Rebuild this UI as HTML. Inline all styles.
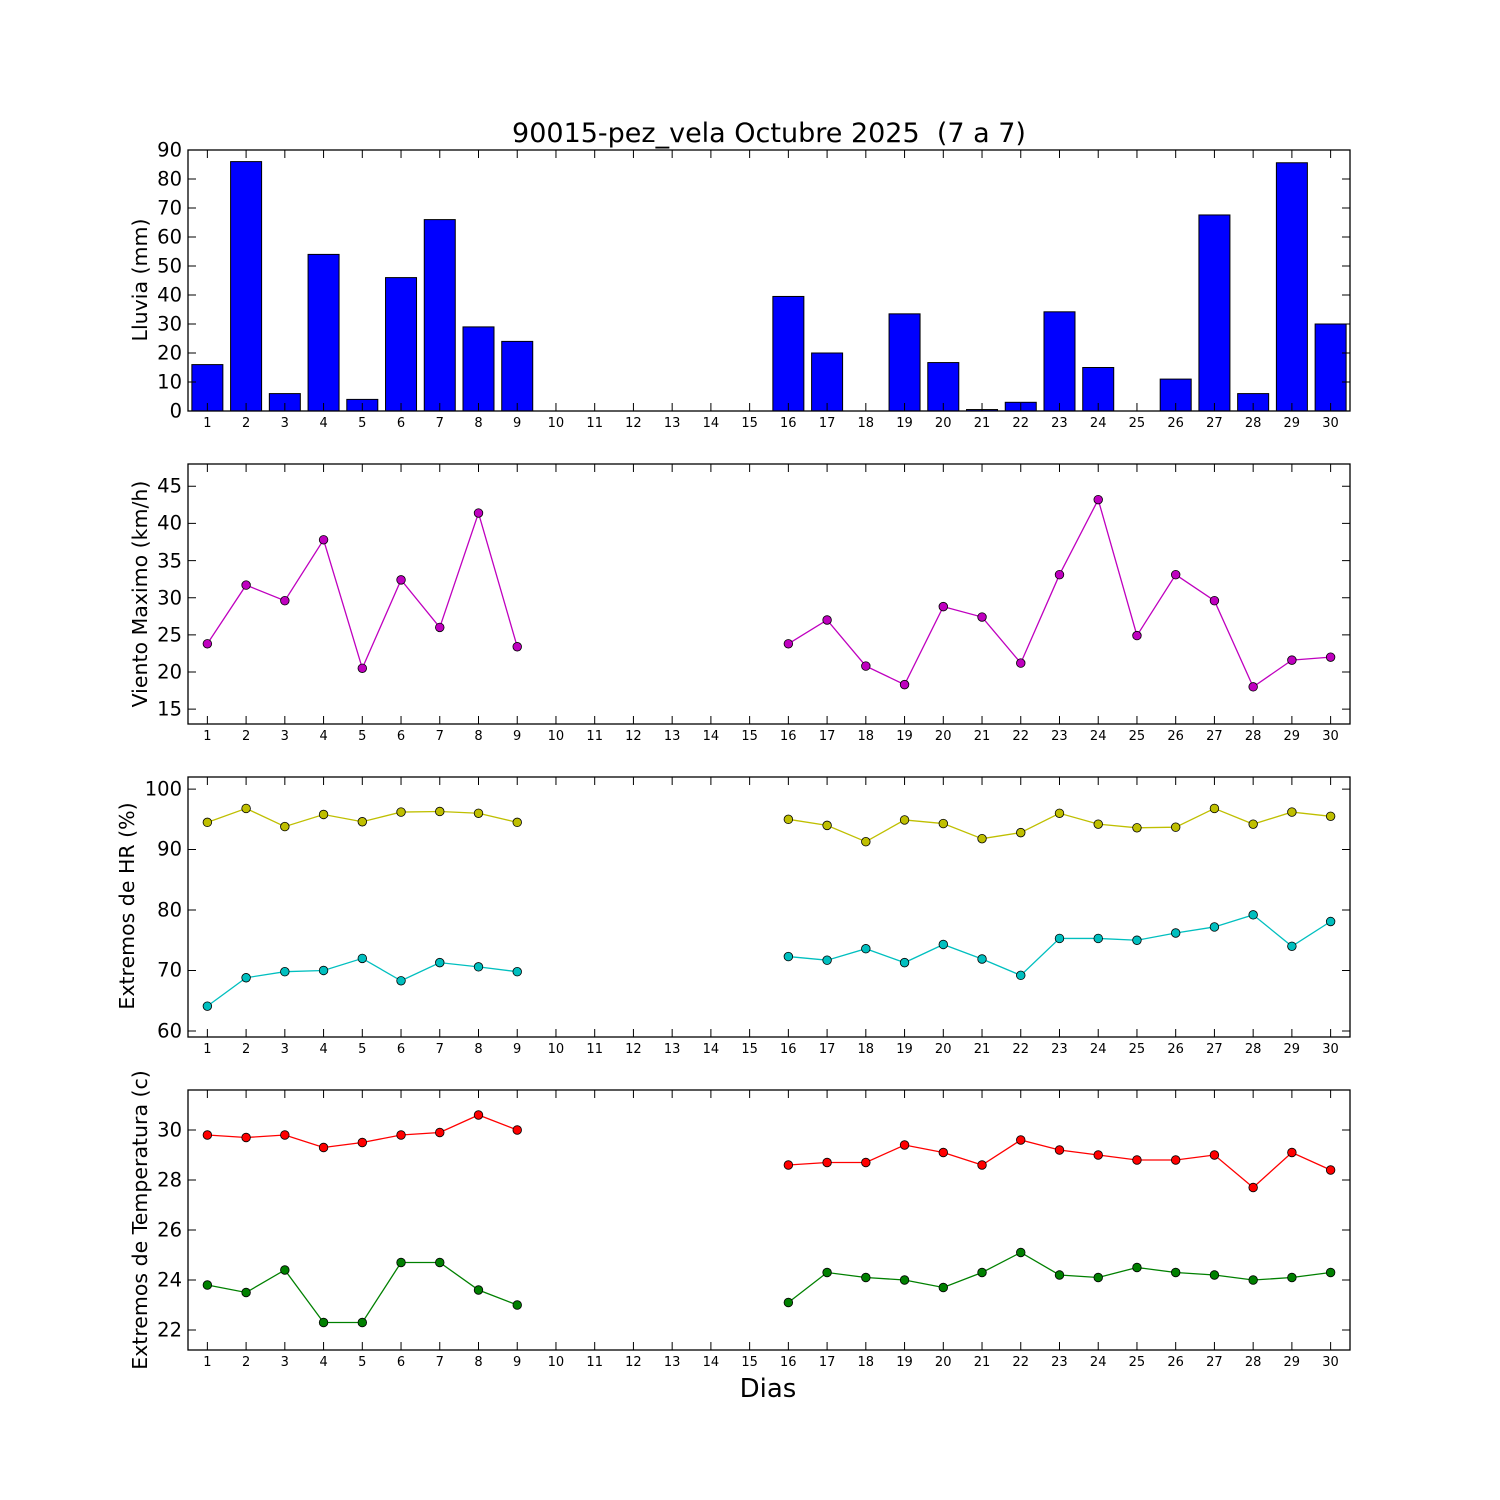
<!DOCTYPE html>
<html><head><meta charset="utf-8"><style>
html,body{margin:0;padding:0;background:#fff}
svg{display:block}
text{font-family:"DejaVu Sans","Liberation Sans",sans-serif;fill:#000}
.yt{font-size:19.5px;text-anchor:end;dominant-baseline:central}
.xt{font-size:13px;text-anchor:middle}
.yl{font-size:20.5px;text-anchor:middle}
</style></head><body>
<svg id="s" width="1500" height="1500" viewBox="0 0 1500 1500" xmlns="http://www.w3.org/2000/svg">
<rect width="1500" height="1500" fill="#fff"/>
<g id="data"></g>
<text x="769" y="142" style="font-size:27px;text-anchor:middle">90015-pez_vela Octubre 2025 &#160;(7 a 7)</text>
<text x="768" y="1397" style="font-size:26px;text-anchor:middle">Dias</text>
<text class="yl" transform="translate(147,280) rotate(-90)">Lluvia (mm)</text>
<text class="yl" transform="translate(147,594) rotate(-90)">Viento Maximo (km/h)</text>
<text class="yl" transform="translate(134,906) rotate(-90)">Extremos de HR (%)</text>
<text class="yl" transform="translate(147,1220) rotate(-90)">Extremos de Temperatura (c)</text>
<g class="yt">
<text x="182" y="411">0</text><text x="182" y="382">10</text><text x="182" y="353">20</text><text x="182" y="324">30</text><text x="182" y="295">40</text><text x="182" y="266">50</text><text x="182" y="237">60</text><text x="182" y="208">70</text><text x="182" y="179">80</text><text x="182" y="150">90</text>
<text x="182" y="709">15</text><text x="182" y="672">20</text><text x="182" y="635">25</text><text x="182" y="598">30</text><text x="182" y="561">35</text><text x="182" y="523">40</text><text x="182" y="486">45</text>
<text x="182" y="1031">60</text><text x="182" y="970">70</text><text x="182" y="910">80</text><text x="182" y="849">90</text><text x="182" y="789">100</text>
<text x="182" y="1330">22</text><text x="182" y="1280">24</text><text x="182" y="1230">26</text><text x="182" y="1180">28</text><text x="182" y="1130">30</text>
</g>
<g class="xt" transform="translate(0,427)">
<text x="207.4">1</text><text x="246.1">2</text><text x="284.8">3</text><text x="323.6">4</text><text x="362.3">5</text><text x="401.0">6</text><text x="439.8">7</text><text x="478.5">8</text><text x="517.2">9</text><text x="555.9">10</text><text x="594.7">11</text><text x="633.4">12</text><text x="672.1">13</text><text x="710.9">14</text><text x="749.6">15</text><text x="788.3">16</text><text x="827.1">17</text><text x="865.8">18</text><text x="904.5">19</text><text x="943.2">20</text><text x="982.0">21</text><text x="1020.7">22</text><text x="1059.4">23</text><text x="1098.2">24</text><text x="1136.9">25</text><text x="1175.6">26</text><text x="1214.4">27</text><text x="1253.1">28</text><text x="1291.8">29</text><text x="1330.5">30</text>
</g>
<g class="xt" transform="translate(0,740)">
<text x="207.4">1</text><text x="246.1">2</text><text x="284.8">3</text><text x="323.6">4</text><text x="362.3">5</text><text x="401.0">6</text><text x="439.8">7</text><text x="478.5">8</text><text x="517.2">9</text><text x="555.9">10</text><text x="594.7">11</text><text x="633.4">12</text><text x="672.1">13</text><text x="710.9">14</text><text x="749.6">15</text><text x="788.3">16</text><text x="827.1">17</text><text x="865.8">18</text><text x="904.5">19</text><text x="943.2">20</text><text x="982.0">21</text><text x="1020.7">22</text><text x="1059.4">23</text><text x="1098.2">24</text><text x="1136.9">25</text><text x="1175.6">26</text><text x="1214.4">27</text><text x="1253.1">28</text><text x="1291.8">29</text><text x="1330.5">30</text>
</g>
<g class="xt" transform="translate(0,1053)">
<text x="207.4">1</text><text x="246.1">2</text><text x="284.8">3</text><text x="323.6">4</text><text x="362.3">5</text><text x="401.0">6</text><text x="439.8">7</text><text x="478.5">8</text><text x="517.2">9</text><text x="555.9">10</text><text x="594.7">11</text><text x="633.4">12</text><text x="672.1">13</text><text x="710.9">14</text><text x="749.6">15</text><text x="788.3">16</text><text x="827.1">17</text><text x="865.8">18</text><text x="904.5">19</text><text x="943.2">20</text><text x="982.0">21</text><text x="1020.7">22</text><text x="1059.4">23</text><text x="1098.2">24</text><text x="1136.9">25</text><text x="1175.6">26</text><text x="1214.4">27</text><text x="1253.1">28</text><text x="1291.8">29</text><text x="1330.5">30</text>
</g>
<g class="xt" transform="translate(0,1366)">
<text x="207.4">1</text><text x="246.1">2</text><text x="284.8">3</text><text x="323.6">4</text><text x="362.3">5</text><text x="401.0">6</text><text x="439.8">7</text><text x="478.5">8</text><text x="517.2">9</text><text x="555.9">10</text><text x="594.7">11</text><text x="633.4">12</text><text x="672.1">13</text><text x="710.9">14</text><text x="749.6">15</text><text x="788.3">16</text><text x="827.1">17</text><text x="865.8">18</text><text x="904.5">19</text><text x="943.2">20</text><text x="982.0">21</text><text x="1020.7">22</text><text x="1059.4">23</text><text x="1098.2">24</text><text x="1136.9">25</text><text x="1175.6">26</text><text x="1214.4">27</text><text x="1253.1">28</text><text x="1291.8">29</text><text x="1330.5">30</text>
</g>
</svg>
<script>
(function(){
var NS="http://www.w3.org/2000/svg",g=document.getElementById("data");
function el(t,a){var e=document.createElementNS(NS,t);for(var k in a)e.setAttribute(k,a[k]);g.appendChild(e);return e;}
function X(d){return 188+(d-0.5)*38.733;}
var L=188,R=1350;
var P=[{t:150,b:411,lo:0,hi:90,ticks:[0,10,20,30,40,50,60,70,80,90]},
{t:464,b:724,lo:13,hi:48,ticks:[15,20,25,30,35,40,45]},
{t:777,b:1037,lo:59,hi:102,ticks:[60,70,80,90,100]},
{t:1090,b:1350,lo:21.2,hi:31.6,ticks:[22,24,26,28,30]}];
function Y(p,v){return p.b-(v-p.lo)/(p.hi-p.lo)*(p.b-p.t);}
var N=null;
var rain=[16,86,6,54,4,46,66,29,24,0,0,0,0,0,0,39.5,20,0,33.5,16.7,0.5,3,34.2,15,0,11,67.6,6,85.6,30];
var gap=[N,N,N,N,N,N];
var wind=[23.8,31.7,29.6,37.8,20.5,32.4,26,41.4,23.4].concat(gap,[23.8,27,20.8,18.3,28.8,27.4,21.2,33.1,43.2,24.9,33.1,29.6,18,21.6,22]);
var hx=[94.5,96.8,93.8,95.8,94.6,96.2,96.3,96,94.5].concat(gap,[95,94,91.3,94.9,94.3,91.8,92.8,96,94.2,93.6,93.7,96.8,94.2,96.2,95.5]);
var hn=[64.1,68.8,69.8,70,72,68.3,71.3,70.6,69.8].concat(gap,[72.3,71.7,73.6,71.3,74.3,71.9,69.2,75.3,75.3,75,76.2,77.2,79.2,74,78.1]);
var tx=[29.8,29.7,29.8,29.3,29.5,29.8,29.9,30.6,30].concat(gap,[28.6,28.7,28.7,29.4,29.1,28.6,29.6,29.2,29,28.8,28.8,29,27.7,29.1,28.4]);
var tn=[23.8,23.5,24.4,22.3,22.3,24.7,24.7,23.6,23].concat(gap,[23.1,24.3,24.1,24,23.7,24.3,25.1,24.2,24.1,24.5,24.3,24.2,24,24.1,24.3]);
rain.forEach(function(v,i){if(v<=0)return;var x=X(i+1)-15.5,y=Y(P[0],v);
el("rect",{x:x,y:y,width:31,height:P[0].b-y,fill:"#0000ff",stroke:"#000","stroke-width":1});});
function series(p,arr,col){
 var segs=[],cur=[];
 arr.forEach(function(v,i){if(v===N){if(cur.length)segs.push(cur);cur=[];}else cur.push([X(i+1),Y(p,v)]);});
 if(cur.length)segs.push(cur);
 segs.forEach(function(s){el("polyline",{points:s.map(function(q){return q.join(",")}).join(" "),fill:"none",stroke:col,"stroke-width":1.3});});
 segs.forEach(function(s){s.forEach(function(q){el("circle",{cx:q[0],cy:q[1],r:4.3,fill:col,stroke:"#000","stroke-width":0.8});});});
}
series(P[1],wind,"#bf00bf");
series(P[2],hx,"#bfbf00");
series(P[2],hn,"#00bfbf");
series(P[3],tx,"#ff0000");
series(P[3],tn,"#008000");
P.forEach(function(p){
 var d="";
 for(var i=1;i<=30;i++){var x=X(i);d+="M"+x+","+p.t+"v8M"+x+","+p.b+"v-8";}
 p.ticks.forEach(function(v){var y=Y(p,v);d+="M"+L+","+y+"h8M"+R+","+y+"h-8";});
 el("path",{d:d,stroke:"#000","stroke-width":1,fill:"none"});
 el("rect",{x:L,y:p.t,width:R-L,height:p.b-p.t,fill:"none",stroke:"#000","stroke-width":1.3});
});
})();
</script>
</body></html>
